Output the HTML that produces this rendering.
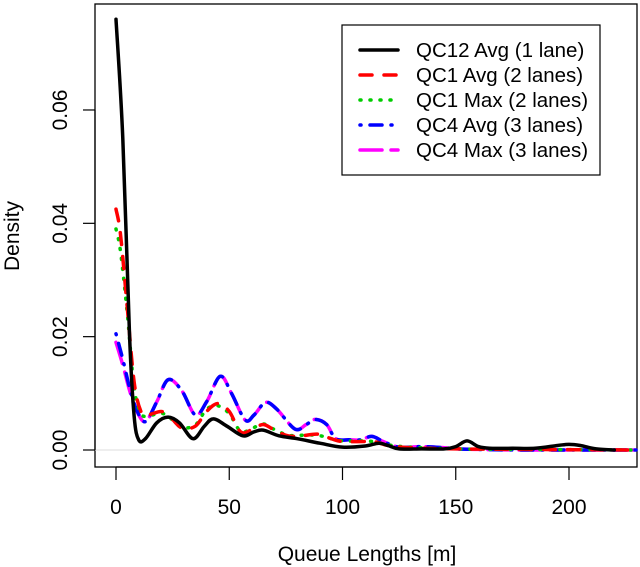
<!DOCTYPE html>
<html><head><meta charset="utf-8"><style>
html,body{margin:0;padding:0;background:#fff;}
svg{display:block;font-family:"Liberation Sans",Arial,sans-serif;}
</style></head><body>
<svg id="chart" width="640" height="567" viewBox="0 0 640 567" xmlns="http://www.w3.org/2000/svg">
<rect x="95" y="4" width="542" height="463" fill="none" stroke="#000" stroke-width="1.3"/>
<g id="axes"></g>
<g id="series"></g>
<g id="legend">
<rect x="342" y="25" width="258" height="150" fill="#fff" stroke="#000" stroke-width="1.2"/>
</g>
<text x="367" y="561" font-size="21" text-anchor="middle">Queue Lengths [m]</text>
<text x="19" y="236" font-size="21" text-anchor="middle" transform="rotate(-90 19 236)">Density</text>
</svg>
<script>
const xTicks=[0,50,100,150,200];
const yTicks=[0,0.02,0.04,0.06];
const yTickLabels=["0.00","0.02","0.04","0.06"];
const names=["QC12 Avg (1 lane)","QC1 Avg (2 lanes)","QC1 Max (2 lanes)","QC4 Avg (3 lanes)","QC4 Max (3 lanes)"];
const xBlack=[0,3,6,8,10,13,18,23,28,34,39,43,49,56,61,65,72,80,90,100,110,116,120,125,135,145,150,155,160,165,175,185,195,200,205,212,220];
const yBlack=[0.076,0.055,0.02,0.006,0.0018,0.002,0.0048,0.0058,0.0048,0.002,0.0042,0.0055,0.0042,0.0025,0.0032,0.0035,0.0025,0.002,0.0012,0.0005,0.0007,0.0012,0.0008,0.0002,0.0002,0.0002,0.0006,0.0016,0.0006,0.0003,0.0003,0.0003,0.0008,0.001,0.0008,0.0002,0];
const xRed=[0,2,5,8,11,14,20,24,29,35,40,45,50,55,60,65,70,76,82,89,95,100,110,115,120,130,150,180,230];
const yRed=[0.0425,0.038,0.025,0.012,0.0068,0.0062,0.0068,0.0058,0.0039,0.0042,0.0068,0.0082,0.0068,0.0032,0.0036,0.0045,0.0035,0.0025,0.0025,0.0028,0.002,0.0015,0.0015,0.0014,0.0008,0.0004,0.0002,0.0001,0];
const xGreen=[0,2,5,8,11,14,20,24,29,35,40,45,50,55,60,65,70,76,82,89,95,100,110,115,120,130,150,180,230];
const yGreen=[0.039,0.035,0.024,0.011,0.0065,0.006,0.0065,0.0056,0.004,0.0044,0.0072,0.0078,0.0064,0.0033,0.0038,0.0046,0.0036,0.0026,0.0026,0.0026,0.002,0.0016,0.0016,0.0014,0.0009,0.0005,0.0002,0.0001,0];
const xBlue=[0,3,6,9,13,18,23,29,35,40,46,51,57,61,66,71,79,84,88,93,97,103,108,113,118,125,135,145,150,160,180,230];
const yBlue=[0.0205,0.016,0.011,0.0072,0.005,0.0085,0.0124,0.0105,0.0062,0.0085,0.013,0.01,0.0053,0.0062,0.0084,0.0072,0.0037,0.0045,0.0054,0.0045,0.002,0.0018,0.0018,0.0024,0.0015,0.0005,0.0006,0.0004,0.0002,0.0001,0,0];
const xMag=[0,3,6,9,13,18,23,29,35,40,46,51,57,61,66,71,79,84,88,93,97,103,108,113,118,125,135,145,150,160,180,230];
const yMag=[0.019,0.015,0.0105,0.007,0.005,0.0085,0.0124,0.0105,0.0062,0.0085,0.013,0.01,0.0053,0.0062,0.0084,0.0072,0.0037,0.0045,0.0054,0.0045,0.002,0.0018,0.0018,0.0024,0.0015,0.0005,0.0006,0.0004,0.0002,0.0001,0,0];

const NS="http://www.w3.org/2000/svg";
function sx(v){return 116+v*2.265;}
function sy(v){return 450-v*5667;}
function mk(tag,attrs,parent){const e=document.createElementNS(NS,tag);for(const k in attrs)e.setAttribute(k,attrs[k]);parent.appendChild(e);return e;}
const axes=document.getElementById('axes');
const zl=mk('line',{x1:95,x2:637,y1:sy(0),y2:sy(0),stroke:'#ddd','stroke-width':1},axes);


const xa=mk('line',{x1:sx(0),x2:sx(200),y1:467,y2:467,stroke:'#000','stroke-width':1.2},axes);


xTicks.forEach(t=>{
  const l=mk('line',{x1:sx(t),x2:sx(t),y1:467,y2:480,stroke:'#000','stroke-width':1.2},axes);
  
  
  const tx=mk('text',{x:sx(t),y:514,'font-size':21,'text-anchor':'middle'},axes);
  tx.textContent=t;
  
  
});
const ya=mk('line',{x1:95,x2:95,y1:sy(0),y2:sy(0.06),stroke:'#000','stroke-width':1.2},axes);


yTicks.forEach((t,i)=>{
  const y=sy(t);
  const l=mk('line',{x1:83,x2:95,y1:y,y2:y,stroke:'#000','stroke-width':1.2},axes);
  
  
  const tx=mk('text',{x:67,y:y,'font-size':21,'text-anchor':'middle',transform:`rotate(-90 67 ${y})`},axes);
  tx.textContent=yTickLabels[i];
  
  
});
function pathFrom(xs,ys){
  const p=xs.map((x,i)=>[sx(x),sy(ys[i])]);
  let d=`M${p[0][0]},${p[0][1]}`;
  for(let i=0;i<p.length-1;i++){
    const p0=p[i-1]||p[i],p1=p[i],p2=p[i+1],p3=p[i+2]||p2;
    const c1=[p1[0]+(p2[0]-p0[0])/6,p1[1]+(p2[1]-p0[1])/6];
    const c2=[p2[0]-(p3[0]-p1[0])/6,p2[1]-(p3[1]-p1[1])/6];
    d+=` C${c1[0]},${c1[1]} ${c2[0]},${c2[1]} ${p2[0]},${p2[1]}`;
  }
  return d;
}
const styles=[
 {c:'#000',dash:'',w:3.5},
 {c:'#ff0000',dash:'12 12',w:3.5},
 {c:'#00cc00',dash:'1 9',w:3.5},
 {c:'#0000ff',dash:'1 9 12 9',w:3.5},
 {c:'#ff00ff',dash:'22 9',w:3.5}];
const data=[[xBlack,yBlack],[xRed,yRed],[xGreen,yGreen],[xBlue,yBlue],[xMag,yMag]];
const sg=document.getElementById('series');
const order=[4,3,2,1,0];
const snames=['series-qc12-avg','series-qc1-avg','series-qc1-max','series-qc4-avg','series-qc4-max'];
order.forEach(i=>{
  const pth=mk('path',{d:pathFrom(data[i][0],data[i][1]),fill:'none',stroke:styles[i].c,'stroke-width':styles[i].w,'stroke-dasharray':styles[i].dash,'stroke-linecap':'round'},sg);
  
  
});
const lg=document.getElementById('legend');
names.forEach((n,i)=>{
  const y=50+i*25;
  const l=mk('line',{x1:360,x2:398,y1:y,y2:y,stroke:styles[i].c,'stroke-width':styles[i].w,'stroke-dasharray':styles[i].dash,'stroke-linecap':'round'},lg);
  
  
  const t=mk('text',{x:416,y:y+7,'font-size':20.5},lg);
  t.textContent=n;
  
  
});
</script>
</body></html>
